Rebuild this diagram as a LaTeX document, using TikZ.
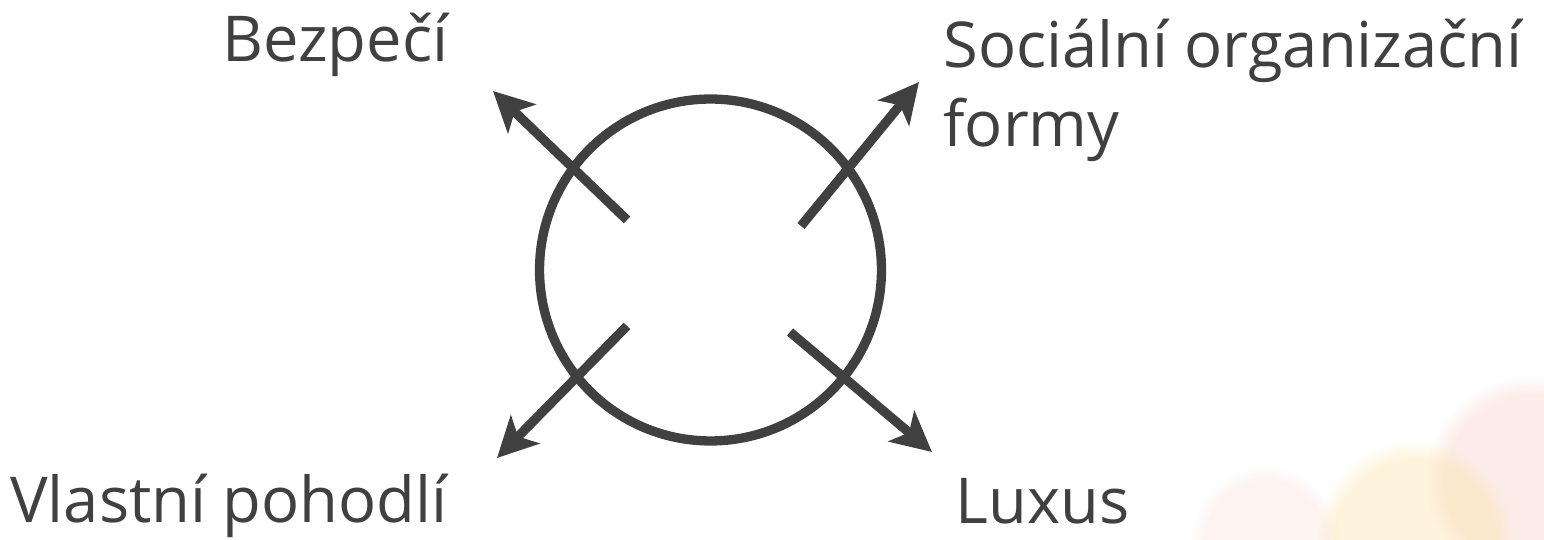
\documentclass[tikz,border=0pt]{standalone}
\usepackage{fontspec}
\setmainfont{Open Sans}
\usetikzlibrary{arrows.meta,fadings}
\definecolor{ink}{HTML}{404040}
\definecolor{blush}{HTML}{F6C9C0}
\definecolor{sand}{HTML}{FBE3A6}
\begin{document}
\begin{tikzpicture}[x=0.02cm, y=0.02cm,
    >={Stealth[length=0.8cm, width=0.8cm, inset=0.2cm]},
    lbl/.style={font=\fontsize{36}{45}\selectfont, text=ink, inner sep=0pt, anchor=base west, align=left},
    arr/.style={->, draw=ink, line width=5.3pt}]
    \useasboundingbox (0,0) rectangle (1544,540);
    % faint background in the corner
    \begin{scope}
        \clip (0,0) rectangle (1544,540);
        \fill[blush, opacity=0.35, path fading=circle with fuzzy edge 20 percent] (1530,60) circle (105);
        \fill[sand, opacity=0.4, path fading=circle with fuzzy edge 20 percent] (1415,0) circle (100);
        \fill[blush, opacity=0.2, path fading=circle with fuzzy edge 20 percent] (1265,0) circle (75);
    \end{scope}
    \node[draw=ink, line width=5.3pt, circle, minimum size=6.84cm, inner sep=0pt] (ring) at (710.5,270) {};
    \coordinate (bz0) at (627,320);  \coordinate (bz1) at (493,449);
    \coordinate (so0) at (801,314);  \coordinate (so1) at (919,458);
    \coordinate (vp0) at (627,214);  \coordinate (vp1) at (497,82);
    \coordinate (lx0) at (790,208);  \coordinate (lx1) at (932,88);
    \draw[arr] (bz0) -- (bz1);
    \draw[arr] (so0) -- (so1);
    \draw[arr] (vp0) -- (vp1);
    \draw[arr] (lx0) -- (lx1);
    \node[lbl] (bezpeci) at (222,478) {Bezpečí};
    % multi-line node: base is the last line
    \node[lbl] (social) at (943,393) {Sociální organizační\\formy};
    \node[lbl] (pohodli) at (10,17) {Vlastní pohodlí};
    \node[lbl] (luxus) at (955,16) {Luxus};
\end{tikzpicture}
\end{document}
